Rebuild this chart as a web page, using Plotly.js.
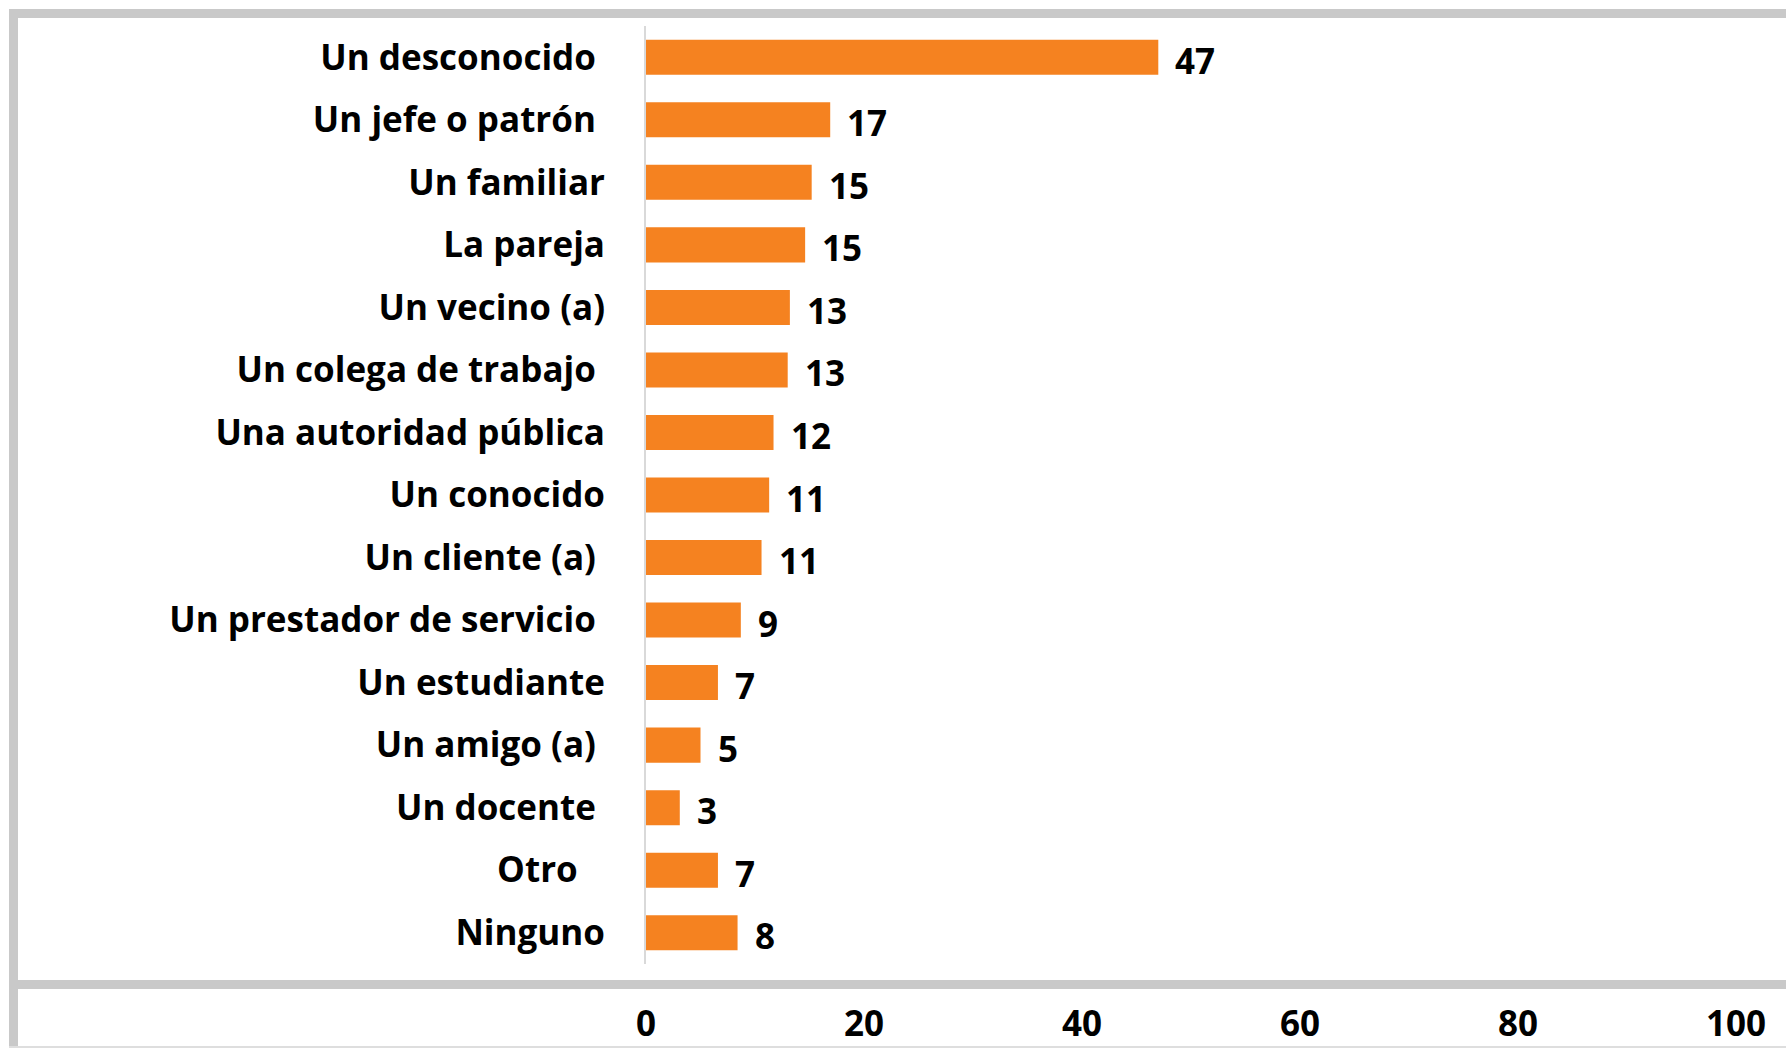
<!DOCTYPE html>
<html>
<head>
<meta charset="utf-8">
<script src="https://cdn.plot.ly/plotly-3.0.1.min.js"></script>
<style>
html,body{margin:0;padding:0;background:#fff;}
#chart{width:1786px;height:1048px;}
</style>
</head>
<body>
<div id="chart"></div>
<script>
// Categories (top to bottom), with trailing spaces as in the original labels
const categories = [
  "Un desconocido\u00a0",
  "Un jefe o patrón\u00a0",
  "Un familiar",
  "La pareja",
  "Un vecino (a)",
  "Un colega de trabajo\u00a0",
  "Una autoridad pública",
  "Un conocido",
  "Un cliente (a)\u00a0",
  "Un prestador de servicio\u00a0",
  "Un estudiante",
  "Un amigo (a)\u00a0",
  "Un docente\u00a0",
  "Otro\u00a0\u00a0\u00a0",
  "Ninguno"
];
// Percentages (bar lengths)
const values = [47.0, 16.9, 15.2, 14.6, 13.2, 13.0, 11.7, 11.3, 10.6, 8.7, 6.6, 5.0, 3.1, 6.6, 8.4];
// Value labels shown next to the bars
const valueLabels = ["47", "17", "15", "15", "13", "13", "12", "11", "11", "9", "7", "5", "3", "7", "8"];
// X axis ticks
const xTicks = [0, 20, 40, 60, 80, 100];

const FONT = "'Open Sans', Lato, sans-serif";
const W = 1786, H = 1048;
const L = 646, R = 50, T = 26, B = 84;
const pw = W - L - R, ph = H - T - B;
const px = v => (v - L) / pw;
const py = v => (H - B - v) / ph;

const grey = "#c9c9c9";
const shapes = [
  // top band
  {type:"rect", xref:"paper", yref:"paper", x0:px(9), x1:px(W+5), y0:py(18), y1:py(9), fillcolor:grey, line:{width:0}},
  // left band
  {type:"rect", xref:"paper", yref:"paper", x0:px(9), x1:px(18), y0:py(H+5), y1:py(9), fillcolor:grey, line:{width:0}},
  // horizontal band separating axis labels
  {type:"rect", xref:"paper", yref:"paper", x0:px(9), x1:px(W+5), y0:py(989), y1:py(980), fillcolor:grey, line:{width:0}},
  // bottom light line
  {type:"rect", xref:"paper", yref:"paper", x0:px(9), x1:px(W+5), y0:py(H+2), y1:py(1046), fillcolor:"#dedede", line:{width:0}}
];

const trace = {
  type: "bar",
  orientation: "h",
  y: categories,
  x: values,
  marker: {color: "#F58220", line: {width: 0}},
  hoverinfo: "none"
};

const annotations = values.map((v, i) => ({
  x: v, y: categories[i], xref: "x", yref: "y",
  text: valueLabels[i],
  showarrow: false,
  xanchor: "left", yanchor: "middle",
  xshift: 15, yshift: -3,
  font: {family: FONT, size: 35, color: "#000", weight: 700}
}));

const layout = {
  width: W, height: H,
  margin: {l: L, r: R, t: T, b: B, pad: 0},
  paper_bgcolor: "#fff",
  plot_bgcolor: "#fff",
  showlegend: false,
  bargap: 0.44,
  font: {family: FONT, color: "#000"},
  xaxis: {
    range: [0, 100],
    tickvals: xTicks,
    ticktext: xTicks.map(String),
    showgrid: false,
    zeroline: false,
    showline: false,
    ticks: "",
    ticklabelstandoff: 36,
    tickfont: {family: FONT, size: 35, color: "#000", weight: 700}
  },
  yaxis: {
    type: "category",
    autorange: "reversed",
    showgrid: false,
    zeroline: false,
    showline: true,
    linecolor: "#d9d9d9",
    linewidth: 2,
    ticks: "",
    ticklabelstandoff: 32,
    tickfont: {family: FONT, size: 35, color: "#000", weight: 700}
  },
  annotations: annotations,
  shapes: shapes
};

Plotly.newPlot("chart", [trace], layout, {displayModeBar: false, staticPlot: true});
</script>
</body>
</html>
